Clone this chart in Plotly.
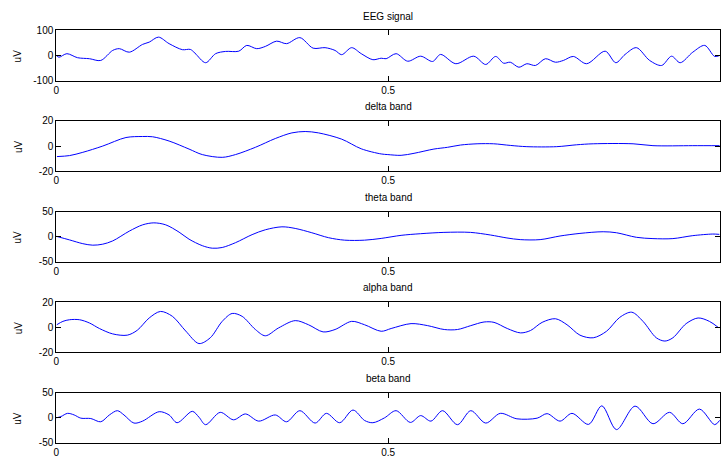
import plotly.graph_objects as go

W, H = 721, 466

# Raw EEG trace and its band-filtered components (time in s, amplitude in uV)
eeg_t = [0, 0.004, 0.016, 0.032, 0.050, 0.067, 0.085, 0.095, 0.110, 0.130, 0.140, 0.154,
         0.170, 0.190, 0.202, 0.209, 0.225, 0.240, 0.255, 0.275, 0.287, 0.302, 0.315,
         0.332, 0.347, 0.367, 0.387, 0.405, 0.420, 0.430, 0.445, 0.4595, 0.477, 0.4895,
         0.497, 0.512, 0.5295, 0.549, 0.567, 0.579, 0.602, 0.629, 0.647, 0.662, 0.674,
         0.684, 0.697, 0.709, 0.722, 0.737, 0.752, 0.764, 0.779, 0.799, 0.827, 0.843,
         0.857, 0.874, 0.894, 0.912, 0.927, 0.940, 0.959, 0.977, 0.992, 0.9997]
eeg_uv = [0, -7, 7, -9, -13, -20, 20, 27, 13, 44, 53, 73,
          47, 23, 24, 9, -29, 7, 16, 17, 40, 27, 36,
          57, 47, 71, 29, 31, 20, 3, 31, 7, -17, -11,
          -13, 7, -23, -3, -24, 4, -33, -3, -36, -4, -31,
          -27, -47, -33, -40, -13, -27, -20, -4, -33, 17, -29,
          4, 31, -20, -40, -3, -29, 13, 40, -4, 0]

delta_t = [0.001, 0.020, 0.040, 0.070, 0.105, 0.130, 0.145, 0.170, 0.200, 0.220, 0.250,
           0.270, 0.300, 0.330, 0.355, 0.375, 0.395, 0.430, 0.4595, 0.4895, 0.4995,
           0.5195, 0.539, 0.569, 0.5895, 0.609, 0.634, 0.659, 0.684, 0.709, 0.754,
           0.784, 0.809, 0.869, 0.899, 0.959, 0.9993]
delta_uv = [-8.4, -7.6, -5, 0, 6.8, 7.6, 7.4, 4, -2.4, -6.8, -9,
            -6.8, -1, 6, 10.5, 11.6, 10.5, 5.5, -2.2, -6.3, -6.8,
            -7.4, -5.8, -2.4, -1, 0.8, 1.8, 1.8, 0.5, -0.5, -0.5,
            1, 1.8, 1.8, 0.3, 0.3, 0.3]

theta_t = [0, 0.020, 0.040, 0.055, 0.070, 0.085, 0.110, 0.130, 0.147, 0.165, 0.185,
           0.200, 0.220, 0.235, 0.250, 0.270, 0.295, 0.315, 0.340, 0.360, 0.385,
           0.410, 0.4345, 0.4645, 0.4895, 0.5195, 0.549, 0.584, 0.624, 0.654, 0.679,
           0.699, 0.729, 0.759, 0.789, 0.824, 0.844, 0.874, 0.899, 0.929, 0.959,
           0.989, 0.999]
theta_uv = [0.7, -6.5, -14, -17, -15, -8.5, 11, 23.5, 27.5, 23.5, 9,
            -5, -18, -23, -21.6, -12, 4, 13.7, 19.6, 16.4, 7.8,
            -2, -7, -7, -3.5, 2.6, 5.9, 8.5, 8.5, 3.3, -2.6,
            -5.9, -5.9, 1.3, 6.5, 9.8, 7.8, -1.3, -3.9, -3.9, 2,
            5.2, 4.6]

alpha_t = [0.0007, 0.010, 0.020, 0.035, 0.050, 0.065, 0.085, 0.107, 0.122, 0.140, 0.157,
           0.175, 0.195, 0.215, 0.232, 0.250, 0.265, 0.280, 0.300, 0.315, 0.335,
           0.360, 0.380, 0.402, 0.420, 0.445, 0.4645, 0.4895, 0.5045, 0.5345, 0.5595,
           0.5845, 0.6045, 0.6245, 0.6445, 0.6595, 0.6795, 0.6995, 0.7145, 0.732, 0.752,
           0.7695, 0.789, 0.809, 0.829, 0.849, 0.867, 0.884, 0.904, 0.917, 0.929,
           0.949, 0.967, 0.984, 0.997]
alpha_uv = [2, 4.7, 6, 6, 3.4, -1, -5.3, -6.3, -2.4, 7.4, 12.6,
            8.7, -3, -13, -8.4, 4.7, 11, 8.7, -1.8, -6.8, -0.5,
            5.3, 2, -3.7, -1.8, 4.7, 2, -3.2, -1, 2.9, 1.3,
            -1.8, -1.8, 1.3, 4.2, 3.9, -1, -4.5, -2.6, 3.9, 6.8,
            2, -6.3, -8.4, -3.2, 7.9, 12, 4.7, -8.4, -11, -8.4,
            2.9, 7.4, 4.7, 0]

beta_t = [0, 0.007, 0.017, 0.027, 0.037, 0.052, 0.067, 0.080, 0.092, 0.102, 0.117,
          0.130, 0.155, 0.170, 0.182, 0.205, 0.215, 0.225, 0.247, 0.267, 0.285,
          0.305, 0.330, 0.347, 0.367, 0.390, 0.407, 0.427, 0.447, 0.4645, 0.477,
          0.4945, 0.512, 0.5335, 0.549, 0.5645, 0.582, 0.6045, 0.6245, 0.647, 0.669,
          0.694, 0.7245, 0.7395, 0.759, 0.777, 0.802, 0.822, 0.844, 0.872, 0.899,
          0.924, 0.944, 0.969, 0.992, 0.9995]
beta_uv = [0, 2.6, 9, 5.8, -0.6, -1.3, -7.8, 5.8, 14.3, 5.8, -10.4,
           -6.5, 12.3, 5.8, -9.7, 13, 1.3, -13.6, 11, -3.9, 7.8,
           -6.5, 5.8, -7.8, 14.3, -10.4, 9, -9.7, 15.6, -5.2, -9.7,
           0, 14.3, -9.1, 4.5, -6.5, 14.3, -13.6, 14.3, -10.4, 9,
           -1.9, -0.6, 8.4, -6.5, 9, -13, 24, -23.4, 23.4, -11.7,
           11, -11.7, 17.5, -13.6, -5]

panel_titles = ["EEG signal", "delta band", "theta band", "alpha band", "beta band"]
panel_limits = [100, 20, 50, 20, 50]
x_tick_vals = [0, 0.5]
x_tick_text = ["0", "0.5"]

series = [(eeg_t, eeg_uv), (delta_t, delta_uv), (theta_t, theta_uv),
          (alpha_t, alpha_uv), (beta_t, beta_uv)]

FONT = "Liberation Sans, Arial, Helvetica, sans-serif"

# panel geometry in pixels
left_px, right_px = 53.5, 720.0
panel_top_px = [25, 118, 211, 304, 397]
panel_h_px = 51.5

fig = go.Figure()
layout = dict(
    width=W, height=H,
    margin=dict(l=0, r=0, t=0, b=0),
    paper_bgcolor="white", plot_bgcolor="white",
    showlegend=False,
    font=dict(family=FONT, size=10, color="black"),
    annotations=[],
)

for i, ((t, v), title, lim) in enumerate(zip(series, panel_titles, panel_limits)):
    n = "" if i == 0 else str(i + 1)
    fig.add_trace(go.Scatter(
        x=t, y=v, mode="lines",
        line=dict(color="#0000ff", width=1, shape="spline", smoothing=0.9),
        xaxis="x" + n, yaxis="y" + n, hoverinfo="skip",
    ))
    top = panel_top_px[i]
    y0 = 1 - (top + panel_h_px) / H
    y1 = 1 - top / H
    axis_common = dict(
        showline=True, linecolor="black", linewidth=1, mirror="ticks",
        ticks="inside", ticklen=5, tickwidth=1, tickcolor="black",
        showgrid=False, zeroline=False, fixedrange=True,
        tickfont=dict(family=FONT, size=10, color="black"),
    )
    layout["xaxis" + n] = dict(
        axis_common, domain=[left_px / W, right_px / W], range=[0, 1],
        tickvals=x_tick_vals, ticktext=x_tick_text,
        anchor="y" + n,
    )
    layout["yaxis" + n] = dict(
        axis_common, domain=[y0, y1], range=[-lim, lim],
        tickvals=[-lim, 0, lim], ticktext=[str(-lim), "0", str(lim)],
        anchor="x" + n,
    )
    layout["annotations"].append(dict(
        text=title, xref="paper", yref="paper",
        x=(left_px + right_px) / 2 / W, y=y1 + 7 / H,
        xanchor="center", yanchor="bottom", showarrow=False,
        font=dict(family=FONT, size=10, color="black"),
    ))
    layout["annotations"].append(dict(
        text="uV", xref="paper", yref="paper",
        x=15 / W, y=(y0 + y1) / 2, textangle=-90,
        xanchor="center", yanchor="middle", showarrow=False,
        font=dict(family=FONT, size=10, color="black"),
    ))

fig.update_layout(**layout)
fig.write_html("out.html")
